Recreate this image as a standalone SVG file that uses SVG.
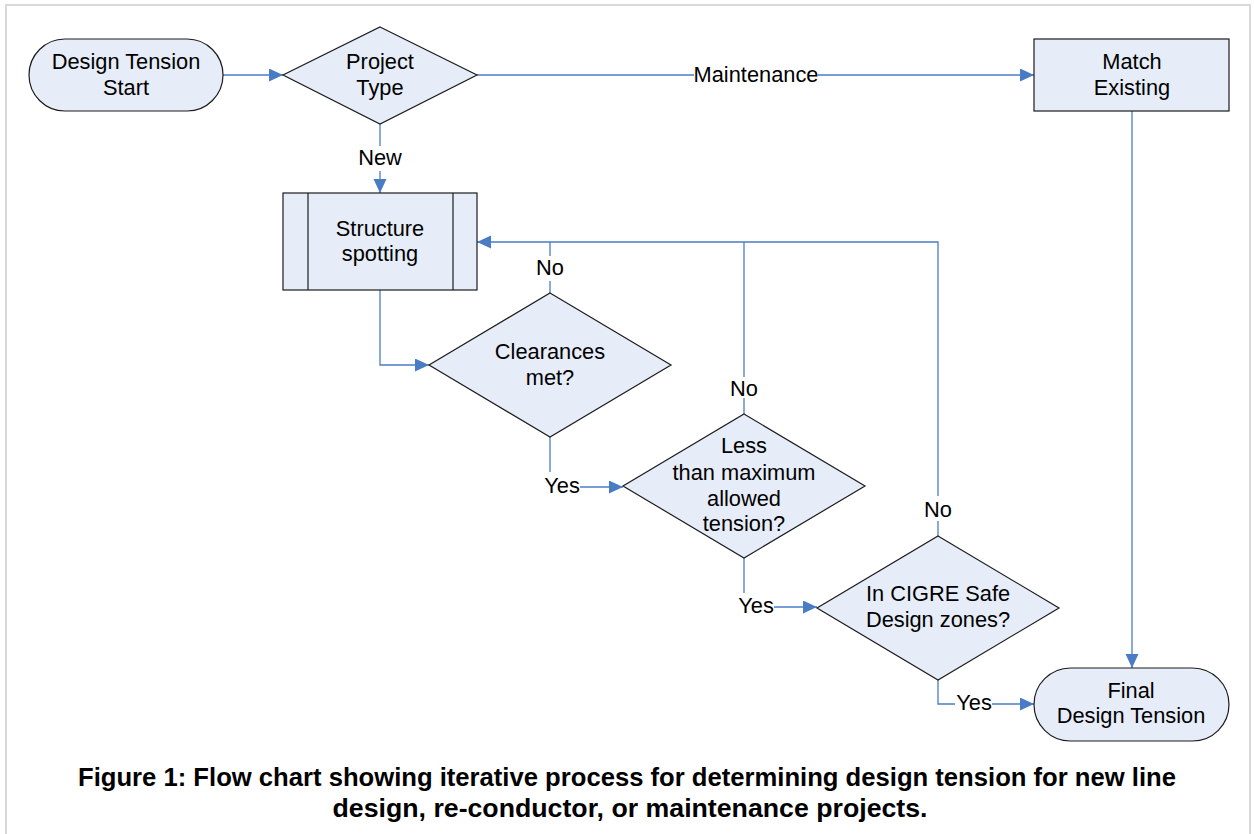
<svg xmlns="http://www.w3.org/2000/svg" width="1254" height="834" viewBox="0 0 1254 834">
  <style>
    .node { fill: #e7edf8; stroke: #1c1c1c; stroke-width: 1.2; }
    .sub { fill: none; stroke: #1c1c1c; stroke-width: 1.2; }
    .lbl { font-family: "Liberation Sans", Arial, sans-serif; font-size: 21.8px; fill: #000; text-anchor: middle; }
    .edge { fill: none; stroke: #4a7cc6; stroke-width: 1.3; }
    .cap { font-family: "Liberation Sans", Arial, sans-serif; font-size: 25.5px; font-weight: bold; fill: #000; text-anchor: middle; }
  </style>
  <defs>
    <marker id="arrow" markerUnits="userSpaceOnUse" markerWidth="15" markerHeight="14" refX="14" refY="6.5" orient="auto">
      <path d="M0,0 L14,6.5 L0,13 z" fill="#4a7cc6"/>
    </marker>
  </defs>

  <rect x="0" y="0" width="1254" height="834" fill="#ffffff"/>
  <!-- figure frame -->
  <rect x="6" y="5" width="1244" height="840" fill="#ffffff" stroke="#d9d9d9" stroke-width="2"/>

  <!-- connectors -->
  <g id="connectors">
    <path class="edge" d="M223,75 H283" marker-end="url(#arrow)"/>
    <path class="edge" d="M477,75 H694"/>
    <path class="edge" d="M818,75 H1034" marker-end="url(#arrow)"/>
    <path class="edge" d="M380,124 V146"/>
    <path class="edge" d="M380,171 V193" marker-end="url(#arrow)"/>
    <path class="edge" d="M1132,111 V668" marker-end="url(#arrow)"/>
    <path class="edge" d="M380,290 V365 H429" marker-end="url(#arrow)"/>
    <!-- return loop to structure spotting -->
    <path class="edge" d="M938,496 V242 H477" marker-end="url(#arrow)"/>
    <path class="edge" d="M744,242 V377"/>
    <path class="edge" d="M744,398 V414"/>
    <path class="edge" d="M550,242 V256"/>
    <path class="edge" d="M550,281 V293"/>
    <path class="edge" d="M938,521 V536"/>
    <!-- yes branches -->
    <path class="edge" d="M550,437 V472"/>
    <path class="edge" d="M580,487 H623" marker-end="url(#arrow)"/>
    <path class="edge" d="M744,558 V593"/>
    <path class="edge" d="M774,607 H817" marker-end="url(#arrow)"/>
    <path class="edge" d="M938,680 V704 H955"/>
    <path class="edge" d="M992,704 H1034" marker-end="url(#arrow)"/>

    <text class="lbl" x="756" y="82">Maintenance</text>
    <text class="lbl" x="380" y="165">New</text>
    <text class="lbl" x="550" y="275">No</text>
    <text class="lbl" x="744" y="396">No</text>
    <text class="lbl" x="938" y="517">No</text>
    <text class="lbl" x="562" y="493">Yes</text>
    <text class="lbl" x="756" y="613">Yes</text>
    <text class="lbl" x="974" y="710">Yes</text>
  </g>

  <g id="start">
    <rect class="node" x="29" y="39" width="194" height="72" rx="36" ry="36"/>
    <text class="lbl" x="126" y="69">Design Tension</text>
    <text class="lbl" x="126" y="95">Start</text>
  </g>

  <g id="project-type">
    <polygon class="node" points="380,27 477,75 380,124 283,75"/>
    <text class="lbl" x="380" y="69">Project</text>
    <text class="lbl" x="380" y="95">Type</text>
  </g>

  <g id="match-existing">
    <rect class="node" x="1034" y="39" width="195" height="72"/>
    <text class="lbl" x="1132" y="69">Match</text>
    <text class="lbl" x="1132" y="95">Existing</text>
  </g>

  <g id="structure-spotting">
    <rect class="node" x="283" y="193" width="194" height="97"/>
    <line class="sub" x1="308" y1="193" x2="308" y2="290"/>
    <line class="sub" x1="453" y1="193" x2="453" y2="290"/>
    <text class="lbl" x="380" y="236">Structure</text>
    <text class="lbl" x="380" y="261">spotting</text>
  </g>

  <g id="clearances">
    <polygon class="node" points="550,293 671,365 550,437 429,365"/>
    <text class="lbl" x="550" y="359">Clearances</text>
    <text class="lbl" x="550" y="385">met?</text>
  </g>

  <g id="max-tension">
    <polygon class="node" points="744,414 865,486 744,558 623,486"/>
    <text class="lbl" x="744" y="453">Less</text>
    <text class="lbl" x="744" y="480">than maximum</text>
    <text class="lbl" x="744" y="506">allowed</text>
    <text class="lbl" x="744" y="531">tension?</text>
  </g>

  <g id="cigre">
    <polygon class="node" points="938,536 1059,608 938,680 817,608"/>
    <text class="lbl" x="938" y="601">In CIGRE Safe</text>
    <text class="lbl" x="938" y="627">Design zones?</text>
  </g>

  <g id="final">
    <rect class="node" x="1034" y="668" width="195" height="73" rx="36.5" ry="36.5"/>
    <text class="lbl" x="1131" y="698">Final</text>
    <text class="lbl" x="1131" y="723">Design Tension</text>
  </g>

  <g id="caption">
    <text class="cap" x="627" y="786" textLength="1098" lengthAdjust="spacingAndGlyphs">Figure 1: Flow chart showing iterative process for determining design tension for new line</text>
    <text class="cap" x="630" y="817" textLength="595" lengthAdjust="spacingAndGlyphs">design, re-conductor, or maintenance projects.</text>
  </g>
</svg>
